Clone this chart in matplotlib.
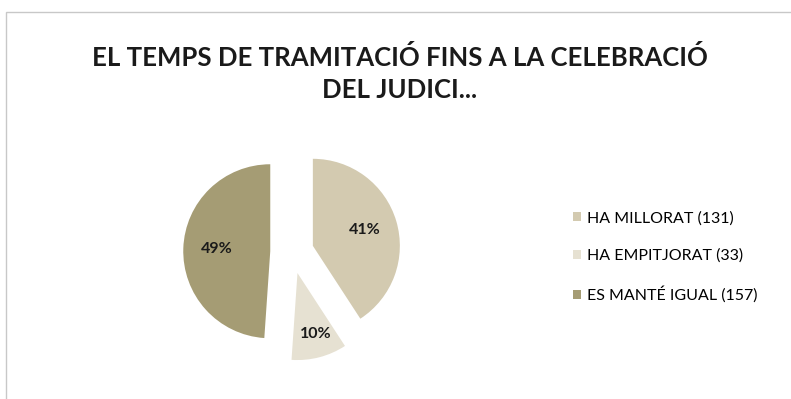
import matplotlib.pyplot as plt
from matplotlib.patches import Rectangle, Patch

labels = ["HA MILLORAT (131)", "HA EMPITJORAT (33)", "ES MANTÉ IGUAL (157)"]
counts = [131, 33, 157]
colors = ["#d3cab0", "#e6e1d2", "#a59c74"]

plt.rcParams['font.family'] = ['Lato', 'DejaVu Sans']

fig = plt.figure(figsize=(7.91, 3.99), dpi=100)
fig.patch.set_facecolor("white")

# light frame around the chart area (right and bottom run off the image)
fig.patches.append(Rectangle((6 / 791, -0.05), 1.05, 1 - 12 / 399 + 0.05,
                             transform=fig.transFigure, fill=False,
                             edgecolor="#c8c8c8", linewidth=1.0))

fig.text(400 / 791, 1 - 57 / 399, "EL TEMPS DE TRAMITACIÓ FINS A LA CELEBRACIÓ",
         ha="center", va="center", fontsize=18.5, fontweight="bold", color="#1a1a1a")
fig.text(400 / 791, 1 - 90 / 399, "DEL JUDICI...",
         ha="center", va="center", fontsize=18.5, fontweight="bold", color="#1a1a1a")

# pie centre at (292, 252) px, radius 87 px
size = 261
ax = fig.add_axes([(292 - size / 2) / 791, (147 - size / 2) / 399, size / 791, size / 399])
wedges, texts, autotexts = ax.pie(
    counts, colors=colors, startangle=90, counterclock=False,
    explode=[0.25, 0.25, 0.25], autopct="%1.0f%%", pctdistance=0.62,
    wedgeprops=dict(linewidth=0),
    textprops=dict(fontsize=11.5, fontweight="bold", color="#1a1a1a"),
    frame=True)
ax.set_xlim(-1.5, 1.5)
ax.set_ylim(-1.5, 1.5)
ax.set_aspect("equal")
ax.axis("off")
x, y = autotexts[1].get_position()
autotexts[1].set_position((x + 0.05, y - 0.1))

handles = [Patch(facecolor=c, edgecolor="none") for c in colors]
fig.legend(handles, labels, loc="center left", bbox_to_anchor=(559 / 791, 1 - 257 / 399),
           frameon=False, fontsize=11.5, handlelength=0.5, handleheight=0.5,
           handletextpad=0.35, labelspacing=1.45)

fig.savefig("out.png", dpi=100)
